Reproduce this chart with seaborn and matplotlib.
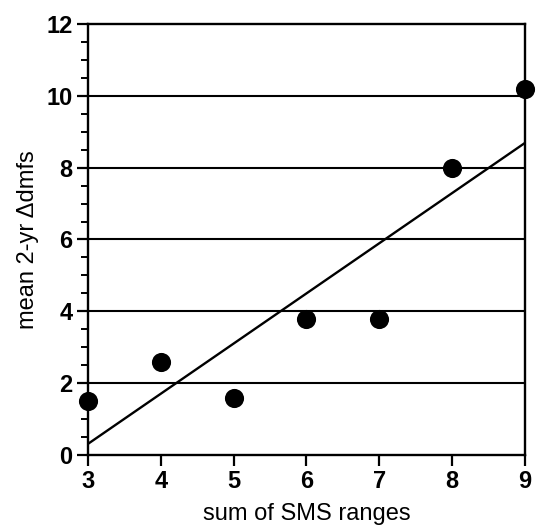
import matplotlib
matplotlib.use("Agg")
import matplotlib.pyplot as plt
import seaborn as sns
import numpy as np
import pandas as pd
from matplotlib.ticker import MultipleLocator

sms_sum = [3, 4, 5, 6, 7, 8, 9]
mean_dmfs = [1.5, 2.6, 1.6, 3.8, 3.8, 8.0, 10.2]
x_ticks = [3, 4, 5, 6, 7, 8, 9]
y_ticks = [0, 2, 4, 6, 8, 10, 12]

df = pd.DataFrame({"sms": sms_sum, "dmfs": mean_dmfs})

sns.set_style("ticks")
plt.rcParams['font.family'] = ['Liberation Sans', 'DejaVu Sans']

fig = plt.figure(figsize=(5.38, 5.27), dpi=100)
ax = fig.add_axes([0.1636, 0.1366, 0.9758 - 0.1636, 0.9545 - 0.1366])

# horizontal gridlines at major y ticks
for yv in y_ticks[1:-1]:
    ax.axhline(yv, color="black", lw=1.5, zorder=1)

sns.regplot(data=df, x="sms", y="dmfs", ci=None, scatter=False, truncate=True,
            line_kws=dict(color="black", lw=1.7, zorder=2), ax=ax)
sns.scatterplot(data=df, x="sms", y="dmfs", s=190, color="black",
                edgecolor="black", linewidth=0, clip_on=False, zorder=5, ax=ax)

ax.set_xlim(3, 9)
ax.set_ylim(0, 12)
ax.set_xticks(x_ticks)
ax.set_yticks(y_ticks)
ax.yaxis.set_minor_locator(MultipleLocator(0.5))

for sp in ax.spines.values():
    sp.set_visible(True)
    sp.set_color("black")
    sp.set_linewidth(1.7)

ax.tick_params(axis="both", which="major", direction="out", length=8, width=1.6,
               labelsize=17, color="black", labelcolor="black", pad=3)
ax.tick_params(axis="y", which="minor", direction="out", length=5, width=1.4, color="black")
ax.tick_params(axis="x", which="minor", length=0)
for lab in ax.get_xticklabels() + ax.get_yticklabels():
    lab.set_fontweight("bold")

ax.set_xlabel("sum of SMS ranges", fontsize=17, labelpad=7, color="black")
ax.set_ylabel("mean 2-yr Δdmfs", fontsize=17, labelpad=5, color="black")

fig.savefig("out.png", dpi=100, facecolor="white")
